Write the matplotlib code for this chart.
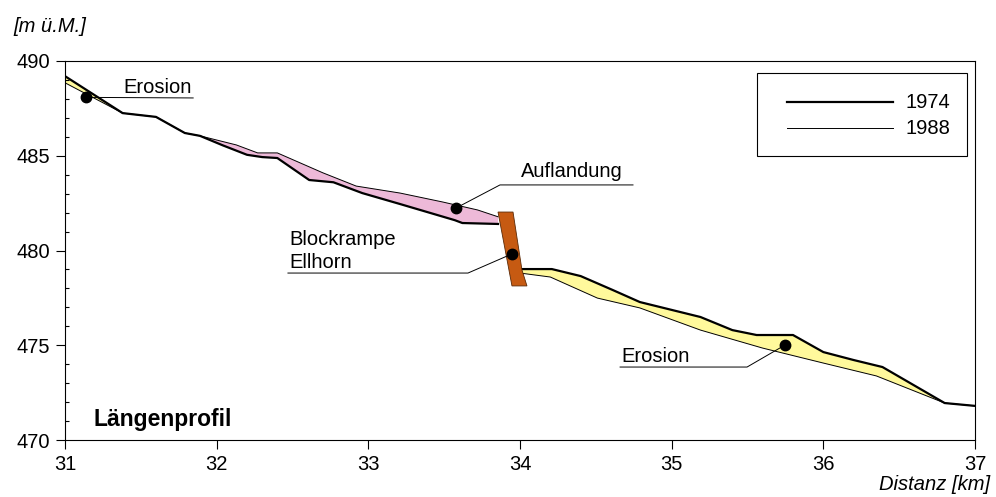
import matplotlib.pyplot as plt
import numpy as np
from matplotlib.patches import Polygon, Rectangle

plt.rcParams['font.family'] = ['Liberation Sans', 'DejaVu Sans']

# Laengsprofil oberhalb der Blockrampe (km, m ue.M.)
up_km_1974 = [31.0, 31.38, 31.6, 31.79, 31.89, 32.04, 32.2, 32.3, 32.4, 32.61,
              32.77, 32.96, 33.21, 33.57, 33.62, 33.855]
up_h_1974 = [489.2, 487.25, 487.05, 486.2, 486.05, 485.55, 485.05, 484.93, 484.88,
             483.72, 483.6, 483.03, 482.45, 481.6, 481.45, 481.4]
up_km_1988 = [31.0, 31.38, 31.6, 31.79, 31.89, 32.13, 32.27, 32.4, 32.7, 32.92,
              33.21, 33.49, 33.72, 33.855]
up_h_1988 = [488.85, 487.25, 487.05, 486.2, 486.05, 485.57, 485.15, 485.15, 484.1,
             483.4, 483.03, 482.56, 482.14, 481.78]

# unterhalb der Blockrampe
dn_km_1974 = [34.01, 34.21, 34.4, 34.61, 34.79, 35.19, 35.4, 35.56, 35.8, 36.0,
              36.2, 36.39, 36.8, 37.0]
dn_h_1974 = [479.02, 479.02, 478.65, 477.92, 477.28, 476.49, 475.8, 475.54, 475.54,
             474.64, 474.22, 473.85, 471.95, 471.8]
dn_km_1988 = [34.01, 34.2, 34.51, 34.79, 35.19, 35.6, 36.0, 36.35, 36.8, 37.0]
dn_h_1988 = [478.8, 478.6, 477.49, 476.97, 475.8, 474.85, 474.06, 473.38, 471.95, 471.8]

# Blockrampe Ellhorn
ramp_km = [33.855, 33.954, 34.013, 34.046, 33.947]
ramp_h = [482.03, 482.03, 478.97, 478.13, 478.13]

x_ticks = [31, 32, 33, 34, 35, 36, 37]
y_ticks = [470, 475, 480, 485, 490]

col_erosion = '#FFF99C'
col_aufl = '#EDB9D8'
col_ramp = '#C65A12'


def band(ax, x1, y1, x2, y2, lo, hi, color):
    x1, y1, x2, y2 = map(np.asarray, (x1, y1, x2, y2))
    m1 = (x1 >= lo) & (x1 <= hi)
    m2 = (x2 >= lo) & (x2 <= hi)
    xs = np.r_[x1[m1], x2[m2][::-1]]
    ys = np.r_[y1[m1], y2[m2][::-1]]
    ax.add_patch(Polygon(np.c_[xs, ys], closed=True, facecolor=color,
                         edgecolor='none', zorder=1))


fig = plt.figure(figsize=(9.96, 4.97), dpi=100)
ax = fig.add_axes([65 / 996, 57 / 497, 910 / 996, 379 / 497])

band(ax, up_km_1974, up_h_1974, up_km_1988, up_h_1988, 31.0, 31.4, col_erosion)
band(ax, up_km_1974, up_h_1974, up_km_1988, up_h_1988, 31.85, 33.9, col_aufl)
band(ax, dn_km_1974, dn_h_1974, dn_km_1988, dn_h_1988, 34.0, 37.0, col_erosion)

ax.plot(up_km_1974, up_h_1974, color='black', lw=1.6, zorder=3)
ax.plot(dn_km_1974, dn_h_1974, color='black', lw=1.6, zorder=3)
ax.plot(up_km_1988, up_h_1988, color='black', lw=0.7, zorder=3)
ax.plot(dn_km_1988, dn_h_1988, color='black', lw=0.7, zorder=3)

ax.add_patch(Polygon(np.c_[ramp_km, ramp_h], closed=True, facecolor=col_ramp,
                     edgecolor='#5a2a08', lw=0.6, zorder=4))

# Beschriftungen mit Hinweislinien
fs = 14.5
def callout(dot, path, label, tx, ty):
    ax.plot([dot[0]] + [p[0] for p in path], [dot[1]] + [p[1] for p in path],
            color='black', lw=0.7, zorder=5)
    ax.plot(*dot, 'o', color='black', ms=7.5, zorder=6)
    ax.text(tx, ty, label, fontsize=fs, va='baseline', ha='left', zorder=6)

callout((31.138, 488.08), [(31.845, 488.05)], 'Erosion', 31.382, 488.31)
callout((33.578, 482.24), [(33.868, 483.46), (34.745, 483.46)], 'Auflandung', 34.006, 483.88)
callout((33.947, 479.82), [(33.657, 478.81), (32.47, 478.81)], 'Blockrampe', 32.477, 480.29)
ax.text(32.477, 479.08, 'Ellhorn', fontsize=fs, va='baseline', ha='left')
callout((35.747, 475.01), [(35.497, 473.85), (34.66, 473.85)], 'Erosion', 34.666, 474.12)

ax.text(31.185, 470.74, 'Längenprofil', fontsize=16.5, fontweight='bold', va='baseline')

# Legende
ax.add_patch(Rectangle((0.7604, 0.7493), 0.2308, 0.219, transform=ax.transAxes,
                       facecolor='white', edgecolor='black', lw=0.8, zorder=7))
for yy, lw, lab in [(0.8918, 1.6, '1974'), (0.8232, 0.7, '1988')]:
    ax.plot([0.7934, 0.9099], [yy, yy], transform=ax.transAxes, color='black',
            lw=lw, zorder=8)
    ax.text(0.9231, yy, lab, transform=ax.transAxes, fontsize=fs, va='center',
            ha='left', zorder=8)

ax.set_xlim(31, 37)
ax.set_ylim(470, 490)
ax.set_xticks(x_ticks)
ax.set_yticks(y_ticks)
ax.set_yticks(np.arange(470, 491, 1), minor=True)
ax.tick_params(axis='both', which='major', direction='out', length=6.5, width=0.8,
               labelsize=fs, pad=4)
ax.tick_params(axis='y', which='minor', direction='in', length=3, width=0.8)
for s in ax.spines.values():
    s.set_linewidth(0.8)

fig.text(13 / 996, 1 - 26 / 497, '[m ü.M.]', fontsize=fs, style='italic',
         ha='left', va='center')
fig.text(990 / 996, 1 - 485 / 497, 'Distanz [km]', fontsize=fs, style='italic',
         ha='right', va='center')

fig.savefig('out.png', dpi=100)
